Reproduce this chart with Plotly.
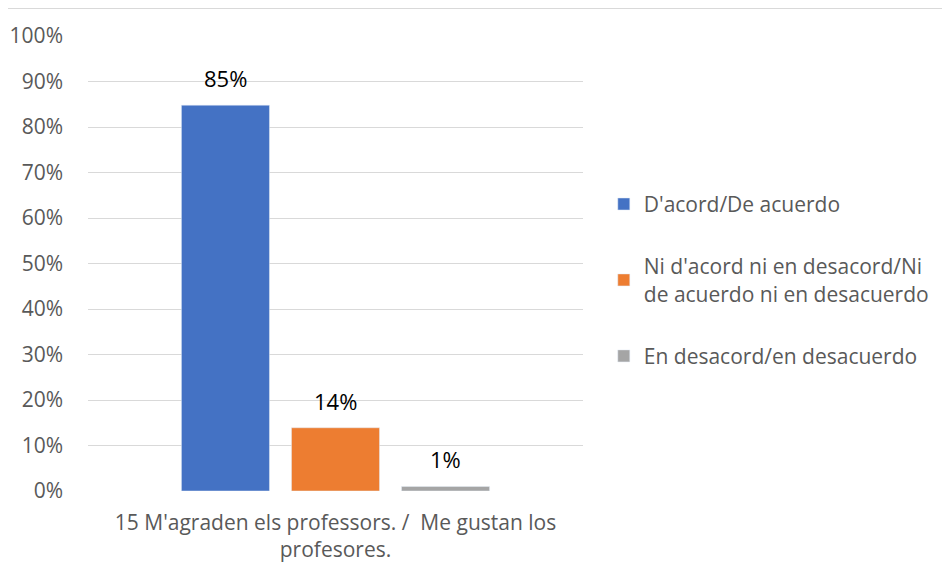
import plotly.graph_objects as go

categories = ["15 M'agraden els professors. /  Me gustan los<br>profesores."]
series_names = ["D'acord/De acuerdo",
                "Ni d'acord ni en desacord/Ni<br>de acuerdo ni en desacuerdo",
                "En desacord/en desacuerdo"]
series_values = [[0.848], [0.139], [0.01]]
series_colors = ["#4472C4", "#ED7D31", "#A5A5A5"]
y_ticks = [0, 0.1, 0.2, 0.3, 0.4, 0.5, 0.6, 0.7, 0.8, 0.9, 1.0]

FONT = "Open Sans"
GREY = "#595959"

fig = go.Figure()
for i, (name, vals, col) in enumerate(zip(series_names, series_values, series_colors)):
    fig.add_trace(go.Bar(
        x=categories, y=vals, name=name, marker_color=col,
        legendgroup=f"g{i}",
    ))
    # data labels placed above each bar
    for cat, v in zip(categories, vals):
        fig.add_annotation(
            x=cat, y=v, xref="x", yref="y",
            text=f"{v:.0%}", showarrow=False,
            xshift=(i - 1) * 110, yshift=10, yanchor="bottom",
            font=dict(size=22, color="#000000", family=FONT),
        )

# page body has an 8px margin, so the figure is sized/offset to compensate
fig.update_layout(
    width=942, height=569,
    margin=dict(l=80, r=367, t=28, b=86, autoexpand=False),
    paper_bgcolor="white", plot_bgcolor="white",
    barmode="group", bargap=0.333, bargroupgap=0.2,
    font=dict(family=FONT, size=21, color=GREY),
    showlegend=True,
    legend=dict(x=1.042, xanchor="left", y=0.463, yanchor="middle",
                font=dict(size=21, color=GREY),
                tracegroupgap=32, itemwidth=30, bgcolor="rgba(0,0,0,0)"),
)
fig.update_yaxes(range=[0, 1.0], tickvals=y_ticks, tickformat=".0%",
                 showgrid=True, gridcolor="#D9D9D9", gridwidth=1,
                 zeroline=False, showline=False, ticks="",
                 ticklabelstandoff=24,
                 tickfont=dict(size=21, color=GREY))
fig.update_xaxes(showgrid=False, showline=False, ticks="",
                 ticklabelstandoff=17,
                 tickfont=dict(size=21, color=GREY))
fig.add_shape(type="line", xref="paper", yref="paper",
              x0=-0.2, x1=1.8, y0=1 + 28 / 455, y1=1 + 28 / 455,
              line=dict(color="#D9D9D9", width=2))

fig.write_html("out.html")
